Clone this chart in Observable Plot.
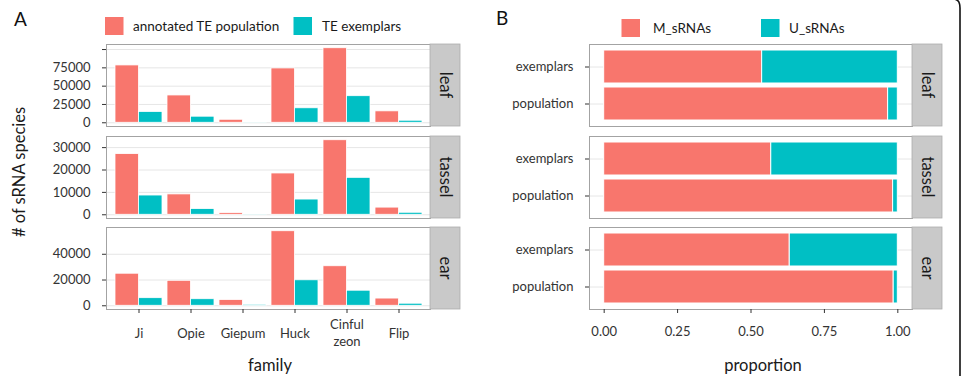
<!DOCTYPE html>
<html>
<head>
<meta charset="utf-8">
<script src="https://cdn.jsdelivr.net/npm/d3@7"></script>
<script src="https://cdn.jsdelivr.net/npm/@observablehq/plot@0.6"></script>
<style>
  body { margin: 0; background: #fff; }
  #chart { position: relative; width: 967px; height: 376px; overflow: hidden; background: #fff; font-family: Lato, sans-serif; }
  #chart svg { position: absolute; }
</style>
</head>
<body>
<div id="chart"></div>
<script>
// ---- data -------------------------------------------------------------
const families = ["Ji", "Opie", "Giepum", "Huck", "Cinful zeon", "Flip"];
const tissues = ["leaf", "tassel", "ear"];

// panel A: number of sRNA species per TE family
const countSeries = ["annotated TE population", "TE exemplars"];
const countColors = ["#F8766D", "#00BFC4"];
const leafPopulation   = [78300, 37300, 4100, 74200, 101800, 15600];
const leafExemplars    = [14800,  8300,  200, 19800,  36300,  2800];
const tasselPopulation = [27100,  9100,  800, 18450,  33300,  3200];
const tasselExemplars  = [ 8600,  2550,  100,  6800,  16500,   900];
const earPopulation    = [24900, 19400, 4500, 57900,  30700,  5600];
const earExemplars     = [ 5900,  5100,  800, 19800,  11700,  1600];
const leafTicks   = [0, 25000, 50000, 75000, 100000];
const leafLabels  = ["0", "25000", "50000", "75000", ""];
const tasselTicks = [0, 10000, 20000, 30000];
const tasselLabels = ["0", "10000", "20000", "30000"];
const earTicks    = [0, 20000, 40000];
const earLabels   = ["0", "20000", "40000"];

// panel B: proportion of mapped / unique sRNAs (leaf, tassel, ear)
const groups = ["exemplars", "population"];
const partSeries = ["M_sRNAs", "U_sRNAs"];
const partColors = ["#F8766D", "#00BFC4"];
const mExemplars  = [0.538, 0.569, 0.632];
const uExemplars  = [0.462, 0.431, 0.368];
const mPopulation = [0.967, 0.984, 0.986];
const uPopulation = [0.033, 0.016, 0.014];
const proportionTicks = [0, 0.25, 0.5, 0.75, 1];

// ---- layout -------------------------------------------------------------
const rowTops = [44, 135.5, 227];
const rowHeight = 82;
const stripWidth = 30;
const A = {left: 0, width: 470, ml: 106, mr: 40};
const B = {left: 480, width: 470, ml: 109, mr: 38};
const textColor = "#333";
const chart = document.getElementById("chart");

function baseStyle() {
  return {background: "transparent", overflow: "visible", fontFamily: "Lato, sans-serif", fontSize: "13px", color: textColor};
}

function addStrip(svg, label, x, y, h) {
  const g = d3.select(svg).append("g");
  g.append("rect")
    .attr("x", x).attr("y", y).attr("width", stripWidth).attr("height", h)
    .attr("fill", "#c9c9c9").attr("stroke", "#adadad").attr("stroke-width", 0.8);
  g.append("text")
    .attr("transform", `translate(${x + stripWidth / 2},${y + h / 2}) rotate(90)`)
    .attr("text-anchor", "middle").attr("dy", "0.33em")
    .attr("fill", "#1a1a1a").style("font-size", "16.5px").style("font-family", "Lato, sans-serif")
    .text(label);
}

function place(svg, left, top) {
  svg.style.left = left + "px";
  svg.style.top = top + "px";
  chart.appendChild(svg);
}

// ---- panel A rows -------------------------------------------------------
function countRow(i, pop, exe, ticks, labels) {
  const last = i === tissues.length - 1;
  const rows = families.flatMap((f, j) => [
    {family: f, series: countSeries[0], value: pop[j]},
    {family: f, series: countSeries[1], value: exe[j]}
  ]);
  const ymax = d3.max(rows, d => d.value);
  const mt = 4, mb = last ? 64 : 4;
  const innerWidth = A.width - A.ml - A.mr;
  const half = 0.9 * innerWidth / 6.2 / 2;
  const svg = Plot.plot({
    width: A.width, height: rowHeight + mt + mb,
    marginLeft: A.ml, marginRight: A.mr, marginTop: mt, marginBottom: mb,
    style: baseStyle(),
    x: {type: "band", domain: families, paddingInner: 0.1, paddingOuter: 0.15, ...(last ? {} : {axis: null})},
    y: {domain: [-0.05 * ymax, 1.05 * ymax]},
    color: {domain: countSeries, range: countColors},
    marks: [
      Plot.gridY(ticks, {stroke: "#e6e6e6", strokeOpacity: 1, strokeWidth: 1}),
      Plot.barY(rows.filter(d => d.series === countSeries[0]),
        {x: "family", y1: 0, y2: "value", fill: "series", stroke: "white", strokeWidth: 0.8, insetRight: half}),
      Plot.barY(rows.filter(d => d.series === countSeries[1]),
        {x: "family", y1: 0, y2: "value", fill: "series", stroke: "white", strokeWidth: 0.8, insetLeft: half}),
      Plot.frame({stroke: "#a3a3a3"}),
      Plot.axisY(ticks, {label: null, tickSize: 4, tickPadding: 12, fontSize: 13, tickFormat: d => labels[ticks.indexOf(d)]}),
      ...(last ? [Plot.axisX({label: null, tickSize: 4, tickPadding: 19, fontSize: 13, lineAnchor: "middle", lineHeight: 1.3,
                              tickFormat: d => d.replace(" ", "\n")})] : [])
    ]
  });
  addStrip(svg, tissues[i], A.width - A.mr, mt, rowHeight);
  place(svg, A.left, rowTops[i] - mt);
}

// ---- panel B rows -------------------------------------------------------
function proportionRow(i) {
  const last = i === tissues.length - 1;
  const rows = [
    {group: groups[0], part: partSeries[0], value: mExemplars[i]},
    {group: groups[0], part: partSeries[1], value: uExemplars[i]},
    {group: groups[1], part: partSeries[0], value: mPopulation[i]},
    {group: groups[1], part: partSeries[1], value: uPopulation[i]}
  ];
  const mt = 4, mb = last ? 64 : 4;
  const svg = Plot.plot({
    width: B.width, height: rowHeight + mt + mb,
    marginLeft: B.ml, marginRight: B.mr, marginTop: mt, marginBottom: mb,
    style: baseStyle(),
    x: {domain: [-0.05, 1.05], ...(last ? {} : {axis: null})},
    y: {type: "band", domain: groups, paddingInner: 0.1, paddingOuter: 0.15},
    color: {domain: partSeries, range: partColors},
    marks: [
      Plot.gridY({stroke: "#e6e6e6", strokeOpacity: 1, strokeWidth: 1}),
      Plot.barX(rows, Plot.stackX({y: "group", x: "value", fill: "part", stroke: "white", strokeWidth: 1})),
      Plot.frame({stroke: "#a3a3a3"}),
      Plot.axisY({label: null, tickSize: 4, tickPadding: 12, fontSize: 13}),
      ...(last ? [Plot.axisX(proportionTicks, {label: null, tickSize: 4, tickPadding: 18, fontSize: 13, lineAnchor: "middle",
                                               tickFormat: d3.format(".2f")})] : [])
    ]
  });
  addStrip(svg, tissues[i], B.width - B.mr, mt, rowHeight);
  place(svg, B.left, rowTops[i] - mt);
}

// ---- titles, legends, outline --------------------------------------------
const overlay = d3.create("svg")
  .attr("width", 967).attr("height", 376)
  .style("left", "0px").style("top", "0px")
  .style("font-family", "Lato, sans-serif");

overlay.append("text").attr("x", 14).attr("y", 26).style("font-size", "19px").attr("fill", "#111").text("A");
overlay.append("text").attr("x", 496).attr("y", 25).style("font-size", "19px").attr("fill", "#111").text("B");

function legend(items, colors, swatchX, textX, y) {
  items.forEach((label, k) => {
    overlay.append("rect").attr("x", swatchX[k]).attr("y", y).attr("width", 18.5).attr("height", 18)
      .attr("fill", colors[k]);
    overlay.append("text").attr("x", textX[k]).attr("y", y + 9).attr("dy", "0.35em")
      .style("font-size", "13.5px").attr("fill", "#1a1a1a").text(label);
  });
}
legend(countSeries, countColors, [105, 293.5], [133, 322], 17);
legend(partSeries, partColors, [621.5, 761], [653, 789], 19);

overlay.append("text")
  .attr("transform", "translate(19,172) rotate(-90)")
  .attr("text-anchor", "middle").attr("dy", "0.35em")
  .style("font-size", "16.5px").attr("fill", "#1a1a1a").text("# of sRNA species");
overlay.append("text").attr("x", 270).attr("y", 365).attr("text-anchor", "middle").attr("dy", "0.35em")
  .style("font-size", "16.5px").attr("fill", "#1a1a1a").text("family");
overlay.append("text").attr("x", 763).attr("y", 365).attr("text-anchor", "middle").attr("dy", "0.35em")
  .style("font-size", "16.5px").attr("fill", "#1a1a1a").text("proportion");

overlay.append("path")
  .attr("d", "M955.5,-0.5 Q960,0.5 960,8 V377")
  .attr("fill", "none").attr("stroke", "#111").attr("stroke-width", 1.6);

chart.appendChild(overlay.node());

countRow(0, leafPopulation, leafExemplars, leafTicks, leafLabels);
countRow(1, tasselPopulation, tasselExemplars, tasselTicks, tasselLabels);
countRow(2, earPopulation, earExemplars, earTicks, earLabels);
tissues.forEach((t, i) => proportionRow(i));
</script>
</body>
</html>
